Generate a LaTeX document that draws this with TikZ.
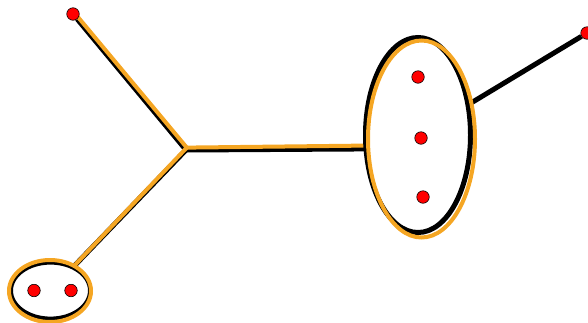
\documentclass[tikz,border=0pt]{standalone}
\usetikzlibrary{shapes.geometric,backgrounds}
\definecolor{hl}{RGB}{245,166,35}
\begin{document}
\begin{tikzpicture}[x=1pt,y=-1pt,
  dot/.style={circle,draw=black,line width=0.6pt,fill=red,minimum size=12.5pt,inner sep=0pt},
  blk/.style={draw=black,line width=5pt},
  org/.style={draw=hl,line width=4pt},
  ell/.style={ellipse,inner sep=0pt,outer sep=0pt}]
\useasboundingbox (0,0) rectangle (588,322);
% hyperedge ellipses
\node[ell,blk,minimum width=105pt,minimum height=195pt] (Rb) at (418,135) {};
\node[ell,org,minimum width=107pt,minimum height=197pt] (Ro) at (421.5,139) {};
\node[ell,blk,line width=4pt,minimum width=79pt,minimum height=56pt] (Lb) at (50.5,290.6) {};
\node[ell,org,minimum width=82pt,minimum height=62pt] (Lo) at (50,291) {};
% vertices
\node[dot] (p1) at (73,14) {};
\node[dot] (r1) at (418,77) {};
\node[dot] (r2) at (421,138) {};
\node[dot] (r3) at (423,197) {};
\node[dot] (l1) at (34,290.5) {};
\node[dot] (l2) at (71,290.5) {};
\node[dot] (p7) at (587,33) {};
% junctions
\coordinate (J) at (186,150);
\coordinate (Jo) at (186.8,147.6);
\begin{scope}[on background layer]
\draw[blk] (p1) -- (J) -- (Lb);
\draw[blk] (J) -- (Rb.195);
\draw[blk] (Rb) -- (p7);
\draw[org,line join=round] ([shift={(1.4,-1.2)}]p1.center) -- (Jo) -- (Lb);
\draw[org] (Jo) -- (Ro.187);
\end{scope}
\end{tikzpicture}
\end{document}
